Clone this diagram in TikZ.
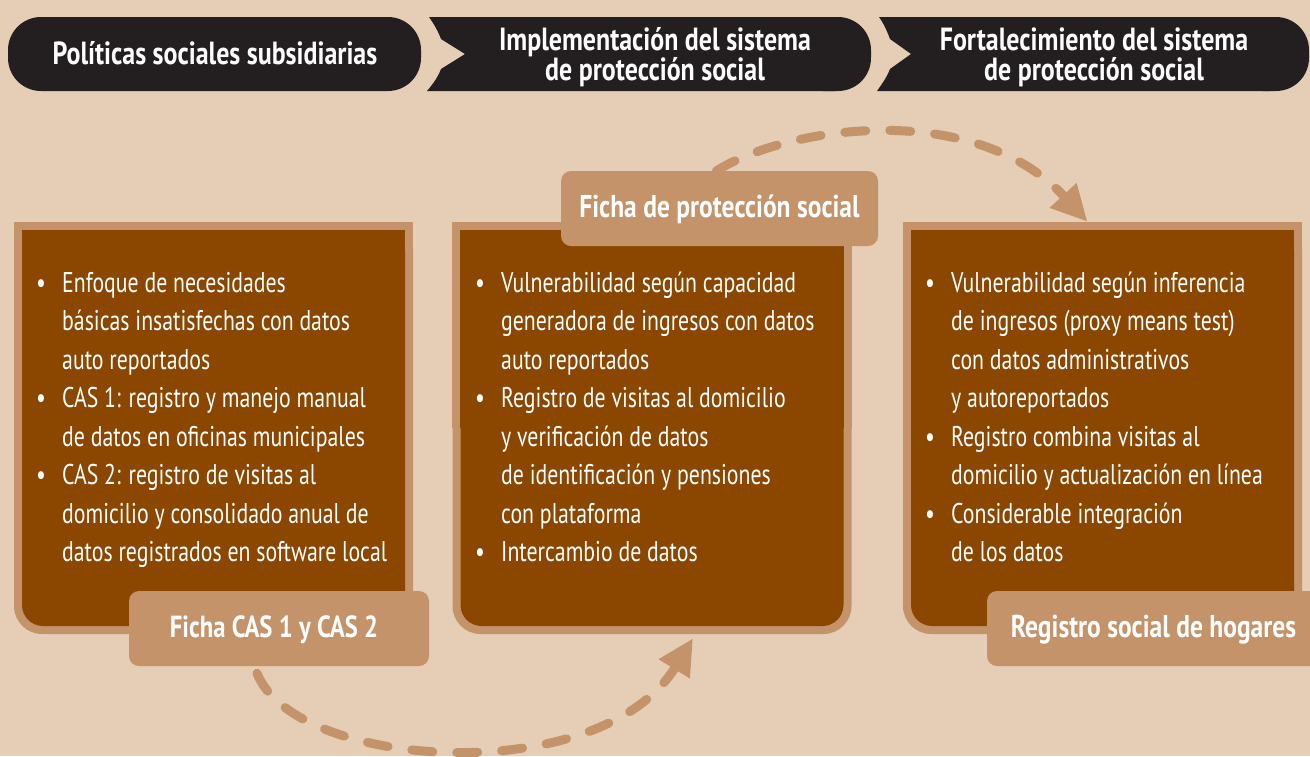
\documentclass[tikz,border=0pt]{standalone}
\usepackage{fontspec}
\setmainfont{PT Sans}[FakeStretch=0.765]
\newfontfamily\tagfont{PT Sans}[FakeStretch=0.81]
\usetikzlibrary{arrows.meta,positioning}
\definecolor{chartbg}{HTML}{E6CDB5}
\definecolor{chartink}{HTML}{231F20}
\definecolor{charttan}{HTML}{C4936A}
\definecolor{chartbrown}{HTML}{8B4700}
\newcommand{\fbul}{\makebox[26pt][l]{\textbullet}}
\newcommand{\fgap}{\hspace*{26pt}}
\tikzset{
  headtext/.style={text=white,align=center,inner sep=0,anchor=base,
    font=\fontsize{32}{30}\selectfont\tagfont\bfseries},
  bodytext/.style={text=white,align=left,inner sep=0,anchor=base west,
    font=\fontsize{28.5}{38.5}\selectfont},
  tagbox/.style={fill=charttan,rounded corners=10,inner sep=0,text=white,
    text height=21pt,text depth=3pt,font=\fontsize{31.5}{32}\selectfont\tagfont\bfseries},
  flowarrow/.style={charttan,line width=9pt,line cap=round,
    dash pattern=on 21pt off 24pt,-{Triangle[length=36pt,width=34pt]}}
}

\begin{document}
\begin{tikzpicture}[x=1pt,y=-1pt]
    \useasboundingbox (0,0) rectangle (1310,756);
    \fill[chartbg] (0,0) rectangle (1310,756);
    % header band
    \fill[chartink,rounded corners=33] (8,17) rectangle (421,91);
    \fill[chartink] (429,17) .. controls (434,24) and (438,31) .. (441,39)
      -- (465,54) -- (441,69) .. controls (438,77) and (433,84) .. (427,91)
      -- (835,91) -- (835,17) -- cycle;
    \fill[chartink,rounded corners=33] (790,17) rectangle (871,91);
    \fill[chartink] (879,17) .. controls (884,24) and (887,31) .. (890,39)
      -- (911,54) -- (890,69) .. controls (887,77) and (882,84) .. (877,91)
      -- (1270,91) -- (1270,17) -- cycle;
    \fill[chartink,rounded corners=33] (1230,17) rectangle (1309,91);
    \node[headtext] (hd1) at (215,64) {Políticas sociales subsidiarias};
    \node[headtext] (hd2) at (655,80) {Implementación del sistema\\de protección social};
    \node[headtext] (hd3) at (1094,80) {Fortalecimiento del sistema\\de protección social};
    % boxes
    \foreach \bname/\cx in {box1/213.5,box2/652,box3/1102.5}{
      \node[fill=charttan,rounded corners=28,inner sep=0,
        minimum width=399,minimum height=412] (\bname) at (\cx,428) {};
      \fill[charttan] (\bname.north west) rectangle (\bname.east);
      \node[fill=chartbrown,rounded corners=21,inner sep=0,
        minimum width=383,minimum height=396] (\bname in) at (\cx,428) {};
      \fill[chartbrown] (\bname in.north west) rectangle (\bname in.east);
    }
    \node[bodytext] (txt1) at (36,561.5) {\fbul Enfoque de necesidades\\
      \fgap básicas insatisfechas con datos\\
      \fgap auto reportados\\
      \fbul CAS 1: registro y manejo manual\\
      \fgap de datos en oficinas municipales\\
      \fbul CAS 2: registro de visitas al\\
      \fgap domicilio y consolidado anual de\\
      \fgap datos registrados en software local};
    \node[bodytext] (txt2) at (475,561.5) {\fbul Vulnerabilidad según capacidad\\
      \fgap generadora de ingresos con datos\\
      \fgap auto reportados\\
      \fbul Registro de visitas al domicilio\\
      \fgap y verificación de datos\\
      \fgap de identificación y pensiones\\
      \fgap con plataforma\\
      \fbul Intercambio de datos};
    \node[bodytext] (txt3) at (925,561.5) {\fbul Vulnerabilidad según inferencia\\
      \fgap de ingresos (proxy means test)\\
      \fgap con datos administrativos\\
      \fgap y autoreportados\\
      \fbul Registro combina visitas al\\
      \fgap domicilio y actualización en línea\\
      \fbul Considerable integración\\
      \fgap de los datos};
    % tags
    \node[tagbox,minimum width=300,minimum height=75] (tagcas) at (279,628.5) {\fontsize{30.5}{32}\selectfont Ficha CAS 1 y CAS 2\hspace*{10pt}};
    \node[tagbox,minimum width=317,minimum height=75] (tagfps) at (719.5,208.5) {Ficha de protección social};
    \node[tagbox,minimum width=333,minimum height=75] (tagrsh) at (1153.5,628.5) {Registro social de hogares};
    % arrows
    \draw[flowarrow] ([xshift=-22pt,yshift=-7pt]tagcas.south)
      .. controls (295,770) and (600,790) .. ([xshift=41pt,yshift=-4pt]box2.south);
    \draw[flowarrow] ([xshift=-3pt]tagfps.north)
      .. controls (790,125) and (975,100) .. ([xshift=-15pt]box3.north);
  \end{tikzpicture}
\end{document}
